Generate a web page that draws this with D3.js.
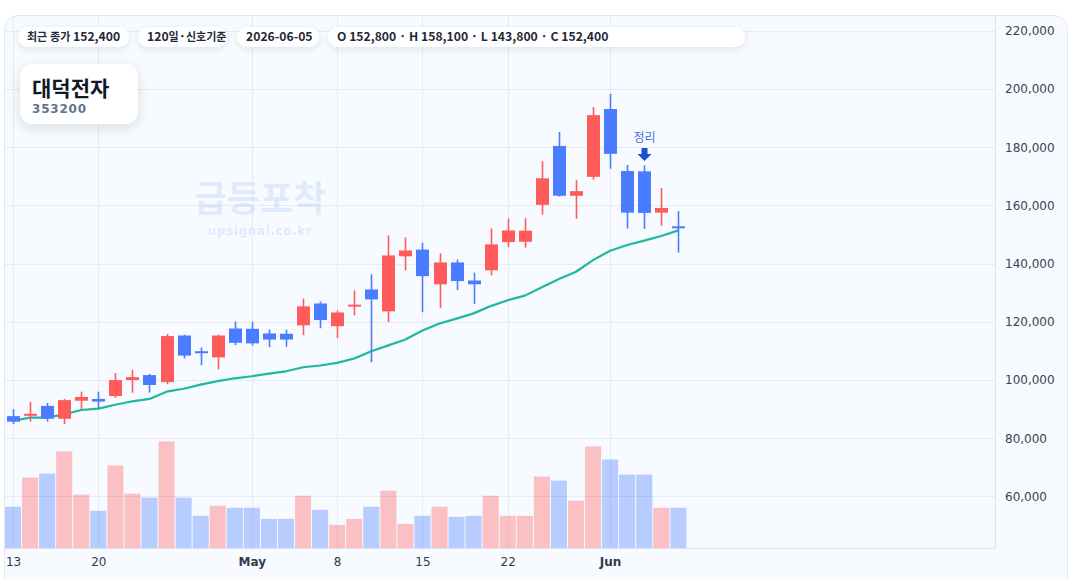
<!doctype html>
<html>
<head>
<meta charset="utf-8">
<script src="https://cdn.jsdelivr.net/npm/d3@7"></script>
<style>
  html, body { margin: 0; padding: 0; background: #ffffff; }
  svg { display: block; }
</style>
</head>
<body>
<div id="chart"></div>
<script>
    // ---- data ----
    var dates = ["2026-04-13","2026-04-14","2026-04-15","2026-04-16","2026-04-17",
                 "2026-04-20","2026-04-21","2026-04-22","2026-04-23","2026-04-24",
                 "2026-04-27","2026-04-28","2026-04-29","2026-04-30","2026-05-01",
                 "2026-05-04","2026-05-05","2026-05-06","2026-05-07","2026-05-08",
                 "2026-05-11","2026-05-12","2026-05-13","2026-05-14","2026-05-15",
                 "2026-05-18","2026-05-19","2026-05-20","2026-05-21","2026-05-22",
                 "2026-05-25","2026-05-26","2026-05-27","2026-05-28","2026-05-29",
                 "2026-06-01","2026-06-02","2026-06-03","2026-06-04","2026-06-05"];
    var opens  = [87600, 88100, 91100, 86700, 92900, 93500, 94500, 100000, 101700, 99300,
                  115300, 109900, 107800, 117700, 117600, 116000, 115900, 118800, 126300, 118500,
                  125400, 131100, 123600, 142500, 144800, 132900, 140400, 134200, 137700, 147400,
                  147500, 160200, 180400, 163300, 169800, 193100, 171800, 171700, 157500, 152800];
    var highs  = [90000, 92500, 92100, 93500, 96000, 96000, 102400, 103500, 102100, 115800,
                  115600, 111200, 115600, 120100, 120000, 117400, 117300, 128000, 127000, 123900,
                  130800, 136300, 149700, 149000, 147200, 143500, 141400, 136900, 152100, 155500,
                  155600, 175200, 185200, 168700, 193800, 198300, 173900, 173800, 166000, 158100];
    var lows   = [84900, 85700, 85700, 84900, 90000, 90300, 93900, 95600, 95700, 98600,
                  107400, 105100, 103700, 112000, 111800, 111300, 111400, 115400, 117800, 114400,
                  122200, 106100, 119900, 137700, 123300, 124700, 130900, 126100, 136000, 145600,
                  145500, 156800, 163000, 155400, 168800, 172600, 152000, 151900, 153000, 143800];
    var closes = [85700, 88400, 86700, 93100, 94200, 92600, 100000, 101000, 98300, 115100,
                  108400, 109300, 115300, 112800, 112600, 113900, 113900, 125300, 120600, 123200,
                  125900, 127700, 142800, 144500, 135700, 140400, 134000, 132900, 146600, 151400,
                  151300, 169300, 163300, 164900, 191000, 177700, 157500, 157400, 159100, 152400];
    var volumes = [615000, 1050000, 1110000, 1440000, 795000, 555000, 1230000, 810000, 750000, 1590000,
                   750000, 480000, 630000, 600000, 600000, 435000, 435000, 780000, 570000, 345000,
                   435000, 615000, 855000, 360000, 480000, 615000, 465000, 480000, 780000, 480000,
                   480000, 1065000, 1005000, 705000, 1515000, 1320000, 1095000, 1095000, 600000, 600000];
    var maLine = [86000, 87100, 87100, 88200, 89700, 90200, 91500, 92700, 93500, 96000,
                  97000, 98400, 99600, 100600, 101300, 102200, 103000, 104400, 105000, 105900,
                  107400, 109900, 111900, 113900, 117000, 119400, 121100, 122900, 125400, 127400,
                  129000, 131900, 134700, 137200, 141200, 144400, 146400, 147900, 149500, 151400];
    var priceTicks = [60000, 80000, 100000, 120000, 140000, 160000, 180000, 200000, 220000];
    var timeTickIdx = [0, 5, 14, 19, 24, 29, 35];
    var timeTickText = ["13", "20", "May", "8", "15", "22", "Jun"];
    var timeTickBold = [false, false, true, false, false, false, true];
    var badgeTexts = ["최근 종가 152,400", "120일·신호기준", "2026-06-05",
                      "O 152,800 · H 158,100 · L 143,800 · C 152,400"];
    var stockName = "대덕전자", stockCode = "353200";
    var markIdx = 37, markText = "정리";

    // ---- layout ----
    var W = 1072, H = 579;
    var plot = {left: 5, right: 995, top: 15, bottom: 548};
    var upColor = "#ff5b5b", downColor = "#4a7cff";

    var svg = d3.select("#chart").append("svg")
        .attr("width", W).attr("height", H);

    var defs = svg.append("defs");
    var sh = defs.append("filter").attr("id", "shadow")
        .attr("x", "-30%").attr("y", "-60%").attr("width", "160%").attr("height", "240%");
    sh.append("feDropShadow").attr("dx", 0).attr("dy", 2).attr("stdDeviation", 3)
        .attr("flood-color", "#1e293b").attr("flood-opacity", 0.10);
    var sh2 = defs.append("filter").attr("id", "shadow2")
        .attr("x", "-30%").attr("y", "-40%").attr("width", "160%").attr("height", "200%");
    sh2.append("feDropShadow").attr("dx", 0).attr("dy", 4).attr("stdDeviation", 6)
        .attr("flood-color", "#1e293b").attr("flood-opacity", 0.12);

    // card
    svg.append("rect")
        .attr("x", 4.5).attr("y", 15.5).attr("width", 1063).attr("height", 620)
        .attr("rx", 14).attr("fill", "#f7faff").attr("stroke", "#e3e8ef");

    // scales
    var x = d3.scaleLinear().domain([-0.47, 57.56]).range([plot.left, plot.right]);
    var y = d3.scaleLinear().domain([42300, 225400]).range([plot.bottom, plot.top]);
    var yv = d3.scaleLinear().domain([0, d3.max(volumes)])
        .range([plot.bottom, plot.top + 0.8 * (plot.bottom - plot.top)]);
    var step = x(1) - x(0);

    // grid
    var grid = svg.append("g").attr("stroke", "#e6eaf1").attr("stroke-width", 1);
    grid.selectAll("line.h").data(priceTicks).enter().append("line")
        .attr("x1", plot.left).attr("x2", plot.right)
        .attr("y1", function(d){ return Math.round(y(d)) + 0.5; })
        .attr("y2", function(d){ return Math.round(y(d)) + 0.5; });
    grid.selectAll("line.v").data(timeTickIdx).enter().append("line")
        .attr("y1", plot.top).attr("y2", plot.bottom)
        .attr("x1", function(d){ return Math.round(x(d)) + 0.5; })
        .attr("x2", function(d){ return Math.round(x(d)) + 0.5; });

    var idx = d3.range(dates.length);
    function isUp(i) { return closes[i] >= opens[i]; }

    // volume
    svg.append("g").selectAll("rect").data(idx).enter().append("rect")
        .attr("x", function(i){ return x(i) - step / 2 + 0.5; })
        .attr("width", step - 1)
        .attr("y", function(i){ return yv(volumes[i]); })
        .attr("height", function(i){ return yv(0) - yv(volumes[i]); })
        .attr("fill", function(i){ return isUp(i) ? upColor : downColor; })
        .attr("opacity", 0.37);

    // MA line
    svg.append("path")
        .datum(idx)
        .attr("fill", "none").attr("stroke", "#1db89e").attr("stroke-width", 2.2)
        .attr("stroke-linejoin", "round")
        .attr("d", d3.line().x(function(i){ return x(i); }).y(function(i){ return y(maLine[i]); }));

    // candles
    var bodyW = 13;
    var candles = svg.append("g").selectAll("g").data(idx).enter().append("g");
    candles.append("line")
        .attr("x1", function(i){ return Math.round(x(i)) + 0.5; })
        .attr("x2", function(i){ return Math.round(x(i)) + 0.5; })
        .attr("y1", function(i){ return y(highs[i]); })
        .attr("y2", function(i){ return y(lows[i]); })
        .attr("stroke", function(i){ return isUp(i) ? upColor : downColor; })
        .attr("stroke-width", 1.6);
    candles.append("rect")
        .attr("x", function(i){ return Math.round(x(i)) + 0.5 - bodyW / 2; })
        .attr("width", bodyW)
        .attr("y", function(i){ return y(Math.max(opens[i], closes[i])); })
        .attr("height", function(i){ return Math.max(2, Math.abs(y(opens[i]) - y(closes[i]))); })
        .attr("fill", function(i){ return isUp(i) ? upColor : downColor; });

    // marker
    var mx = Math.round(x(markIdx)) + 0.5;
    svg.append("text").attr("x", mx).attr("y", 142)
        .attr("text-anchor", "middle")
        .attr("font-family", "Noto Sans CJK KR").attr("font-size", 12)
        .attr("fill", "#4a6fd0").text(markText);
    svg.append("path")
        .attr("d", "M" + (mx - 3) + ",148 h6 v6 h4 l-7,7 l-7,-7 h4 z")
        .attr("fill", "#1d4fd6");

    // axes separators
    svg.append("line").attr("x1", plot.left).attr("x2", plot.right)
        .attr("y1", plot.bottom + 0.5).attr("y2", plot.bottom + 0.5).attr("stroke", "#dde3eb");
    svg.append("line").attr("x1", plot.right + 0.5).attr("x2", plot.right + 0.5)
        .attr("y1", plot.top).attr("y2", plot.bottom).attr("stroke", "#dde3eb");

    // price axis
    var yAxis = d3.axisRight(y).tickValues(priceTicks).tickSize(0).tickPadding(10)
        .tickFormat(d3.format(","));
    var ya = svg.append("g").attr("transform", "translate(" + plot.right + ",0)").call(yAxis);
    ya.select(".domain").remove();
    ya.selectAll("text").attr("font-family", "DejaVu Sans").attr("font-size", 12)
        .attr("fill", "#3b4352");

    // time axis
    var xAxis = d3.axisBottom(x).tickValues(timeTickIdx).tickSize(0).tickPadding(9)
        .tickFormat(function(d, k){ return timeTickText[k]; });
    var xa = svg.append("g").attr("transform", "translate(0," + plot.bottom + ")").call(xAxis);
    xa.select(".domain").remove();
    xa.selectAll("text").attr("font-family", "DejaVu Sans").attr("font-size", 12)
        .attr("fill", "#333b49")
        .attr("font-weight", function(d, k){ return timeTickBold[k] ? "bold" : "normal"; });

    // watermark
    svg.append("text").attr("x", 260).attr("y", 212).attr("text-anchor", "middle")
        .attr("font-family", "Noto Sans CJK KR").attr("font-weight", "bold").attr("font-size", 36)
        .attr("fill", "#3b82f6").attr("fill-opacity", 0.13).text("급등포착");
    svg.append("text").attr("x", 260).attr("y", 235).attr("text-anchor", "middle")
        .attr("font-family", "DejaVu Sans").attr("font-weight", "bold").attr("font-size", 12)
        .attr("letter-spacing", 0.6)
        .attr("fill", "#3b82f6").attr("fill-opacity", 0.15).text("upsignal.co.kr");

    // badges: hangul runs a bit smaller than latin runs
    var badgeX = [18, 138, 237, 328], badgeW = [111, 89, 82, 417];
    var badges = svg.append("g").selectAll("g").data(badgeTexts).enter().append("g")
        .attr("transform", function(d, k){ return "translate(" + badgeX[k] + ",27)"; });
    badges.append("rect").attr("width", function(d, k){ return badgeW[k]; }).attr("height", 20)
        .attr("rx", 10).attr("fill", "#ffffff").attr("filter", "url(#shadow)");
    badges.append("text").attr("x", 9).attr("y", 14.3)
        .attr("font-family", "Noto Sans CJK KR").attr("font-weight", "bold")
        .attr("fill", "#1f2937")
        .each(function(d){
          var runs = d.match(/[\uac00-\ud7a3]+|[^\uac00-\ud7a3]+/g);
          var t = d3.select(this);
          runs.forEach(function(r){
            var hangul = /[\uac00-\ud7a3]/.test(r);
            t.append("tspan").attr("font-size", hangul ? 11 : 12.2).text(r);
          });
        });

    // title card
    var tc = svg.append("g").attr("transform", "translate(20,64)");
    tc.append("rect").attr("width", 118).attr("height", 60).attr("rx", 13)
        .attr("fill", "#ffffff").attr("filter", "url(#shadow2)");
    tc.append("text").attr("x", 12).attr("y", 32)
        .attr("font-family", "Noto Sans CJK KR").attr("font-weight", "bold").attr("font-size", 21)
        .attr("fill", "#111827").text(stockName);
    tc.append("text").attr("x", 12).attr("y", 48.5)
        .attr("font-family", "DejaVu Sans").attr("font-weight", "bold").attr("font-size", 12)
        .attr("letter-spacing", 0.8).attr("fill", "#64748b").text(stockCode);
</script>
</body>
</html>
